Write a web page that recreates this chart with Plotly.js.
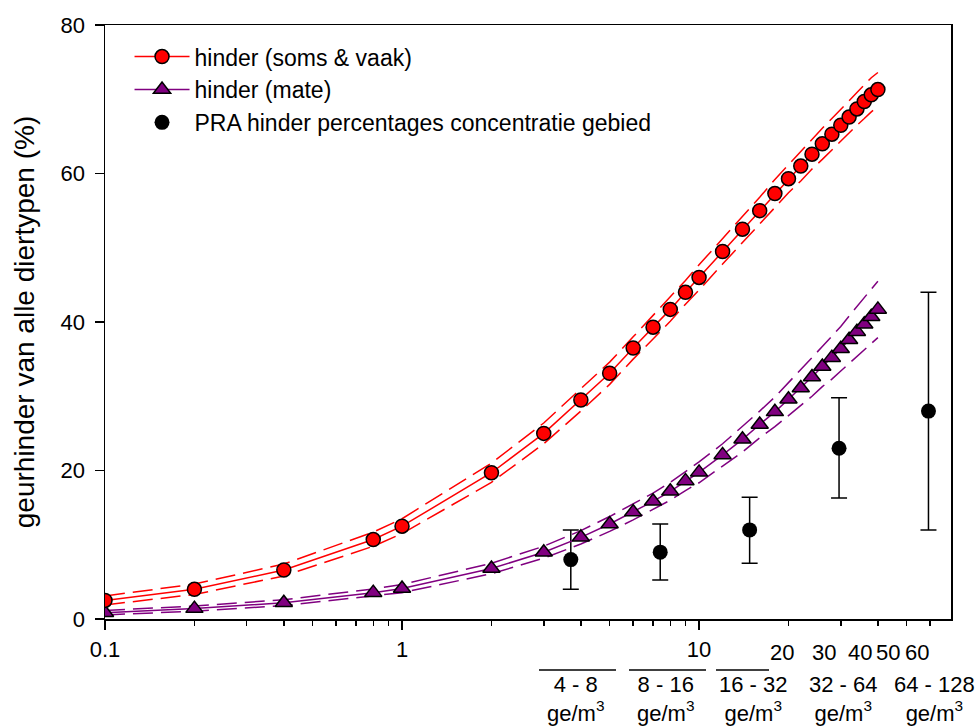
<!DOCTYPE html>
<html>
<head>
<meta charset="utf-8">
<script src="https://cdn.plot.ly/plotly-3.0.1.min.js"></script>
<style>html,body{margin:0;padding:0;background:#fff}#chart{width:977px;height:726px}</style>
</head>
<body>
<div id="chart"></div>
<script>
// concentration (ge/m3)
var conc = [0.1,0.2,0.4,0.8,1,2,3,4,5,6,7,8,9,10,12,14,16,18,20,22,24,26,28,30,32,34,36,38,40];
// hinder (soms & vaak)
var sv = [2.5,4.0,6.6,10.7,12.5,19.7,25.0,29.5,33.1,36.5,39.3,41.7,44.0,46.0,49.5,52.5,55.0,57.3,59.3,61.0,62.6,64.0,65.3,66.5,67.6,68.7,69.7,70.6,71.3];
var svUpper = [3.1,4.7,7.4,11.7,13.5,21.0,26.4,31.0,34.6,38.0,40.9,43.3,45.6,47.7,51.2,54.3,56.8,59.2,61.2,63.0,64.6,66.1,67.4,68.7,69.8,70.9,72.0,72.9,73.6];
var svLower = [1.9,3.3,5.8,9.8,11.5,18.4,23.6,28.0,31.6,35.0,37.7,40.1,42.4,44.3,47.8,50.7,53.2,55.4,57.4,59.0,60.6,61.9,63.2,64.3,65.4,66.5,67.4,68.3,69.0];
// hinder (mate)
var mate = [0.85,1.4,2.2,3.55,4.1,6.8,9.0,11.0,12.8,14.4,15.85,17.2,18.6,19.75,22.1,24.2,26.2,27.9,29.6,31.1,32.6,34.0,35.2,36.4,37.6,38.7,39.7,40.7,41.7];
var mateUpper = [1.15,1.75,2.6,4.05,4.65,7.5,9.8,11.9,13.8,15.45,16.95,18.4,19.9,21.15,23.6,25.9,28.0,29.9,31.8,33.5,35.2,36.7,38.1,39.4,40.8,42.1,43.2,44.4,45.5];
var mateLower = [0.55,1.05,1.8,3.05,3.55,6.1,8.2,10.1,11.8,13.35,14.75,16.0,17.3,18.35,20.6,22.5,24.4,25.9,27.4,28.7,30.0,31.3,32.3,33.4,34.4,35.3,36.2,37.0,37.9];
// PRA hinder percentages per concentratie gebied
var praX = [3.7,7.4,14.8,29.6,59.2];
var praY = [8,9,12,23,28];
var praPlus = [4,3.8,4.4,6.8,16];
var praMinus = [4,3.75,4.5,6.7,16];
// tick labels
var majorTicks = [0.1,1,10];
var majorText = ['0.1','1','10'];
var extraTicks = [20,30,40,50,60];
var extraText = ['20','30','40','50','60'];
var minorTicks = [0.2,0.3,0.4,0.5,0.6,0.7,0.8,0.9,2,3,4,5,6,7,8,9];
var yTicks = [0,20,40,60,80];
var rangeLabels = ['4 - 8','8 - 16','16 - 32','32 - 64','64 - 128'];
var unitLabel = 'ge/m<sup>3</sup>';

var RED = '#ff0000', PURPLE = '#800080';
var F = 'Liberation Sans, Arial, sans-serif';

function band(y, color){
  return {x: conc, y: y, type: 'scatter', mode: 'lines', showlegend: false, hoverinfo: 'skip',
          line: {color: color, width: 1.5, dash: '20px,8px'}};
}

var traces = [
  {x: praX, y: praY, type: 'scatter', mode: 'markers', name: 'PRA hinder percentages concentratie gebied',
   legendrank: 3,
   marker: {symbol: 'circle', size: 15, color: '#000'},
   error_y: {type: 'data', symmetric: false, array: praPlus, arrayminus: praMinus, color: '#000', thickness: 1.5, width: 8}},
  band(svUpper, RED), band(svLower, RED), band(mateUpper, PURPLE), band(mateLower, PURPLE),
  {x: conc, y: mate, type: 'scatter', mode: 'lines+markers', name: 'hinder (mate)', legendrank: 2,
   line: {color: PURPLE, width: 1.5},
   marker: {symbol: 'triangle-up', size: 15, color: PURPLE, line: {color: '#000', width: 1.5}}},
  {x: conc, y: sv, type: 'scatter', mode: 'lines+markers', name: 'hinder (soms & vaak)', legendrank: 1,
   line: {color: RED, width: 1.5},
   marker: {symbol: 'circle', size: 14, color: RED, line: {color: '#000', width: 1.5}}}
];

var L = 105, R = 951, T = 25, B = 619;
function px(v){ return (v - L) / (R - L); }
function py(v){ return (B - v) / (B - T); }

var annotations = [];
// labels of the 20..60 ticks (drawn slightly left of their ticks, as in the original)
var extraShift = [-6, -17, -18, -19, -13];
for (var k = 0; k < extraTicks.length; k++) {
  annotations.push({xref: 'x', yref: 'paper', x: Math.log10(extraTicks[k]), y: py(652), xanchor: 'center', yanchor: 'middle',
    xshift: extraShift[k], text: extraText[k], showarrow: false, font: {family: F, size: 22, color: '#000'}});
}
var centers = [575, 665, 753, 843, 934];
for (var i = 0; i < rangeLabels.length; i++) {
  annotations.push({xref: 'paper', yref: 'paper', x: px(centers[i]), y: py(670), xanchor: 'center', yanchor: 'top',
    text: rangeLabels[i] + '<br>' + unitLabel, showarrow: false, align: 'center',
    font: {family: F, size: 22, color: '#000'}});
}
var shapes = [[539,616],[629,706],[716,769]].map(function(s){
  return {type: 'line', xref: 'paper', yref: 'paper', x0: px(s[0]), x1: px(s[1]), y0: py(670), y1: py(670),
          line: {color: '#000', width: 1.5}};
});

var xr = [-1, Math.log10(70.5)];
var layout = {
  width: 977, height: 726,
  margin: {l: L, r: 977 - R, t: T, b: 726 - B},
  paper_bgcolor: '#fff', plot_bgcolor: '#fff',
  font: {family: F, size: 22, color: '#000'},
  showlegend: true,
  legend: {x: 0.029, y: 0.983, xanchor: 'left', yanchor: 'top', bgcolor: 'rgba(0,0,0,0)',
           font: {family: F, size: 23, color: '#000'}, itemwidth: 55, tracegroupgap: 0},
  xaxis: {type: 'log', range: xr, tickvals: majorTicks, ticktext: majorText,
          ticks: 'outside', ticklen: 9, tickwidth: 1.5, tickcolor: '#000',
          showline: true, linecolor: '#000', linewidth: 1.5, mirror: true,
          showgrid: false, zeroline: false, ticklabelstandoff: 1, tickangle: 0,
          tickfont: {family: F, size: 22, color: '#000'},
          minor: {tickvals: minorTicks, ticks: 'outside', ticklen: 5, tickwidth: 1.5, tickcolor: '#000', showgrid: false}},
  xaxis2: {type: 'log', range: xr, overlaying: 'x', anchor: 'y', side: 'bottom',
           tickvals: extraTicks, showticklabels: false,
           ticks: 'outside', ticklen: 6, tickwidth: 1.5, tickcolor: '#000',
           showline: false, showgrid: false, zeroline: false},
  yaxis: {range: [0, 80], tickvals: yTicks, ticks: 'outside', ticklen: 9, tickwidth: 1.5, tickcolor: '#000',
          showline: true, linecolor: '#000', linewidth: 1.5, mirror: true,
          showgrid: false, zeroline: false, ticklabelstandoff: 5,
          tickfont: {family: F, size: 22, color: '#000'},
          title: {text: 'geurhinder van alle diertypen (%)', font: {family: F, size: 28, color: '#000'}, standoff: 18}},
  annotations: annotations,
  shapes: shapes
};

traces.push({x: [], y: [], xaxis: 'x2', yaxis: 'y', type: 'scatter', showlegend: false, hoverinfo: 'skip'});

Plotly.newPlot('chart', traces, layout, {displayModeBar: false, staticPlot: true});
</script>
</body>
</html>
